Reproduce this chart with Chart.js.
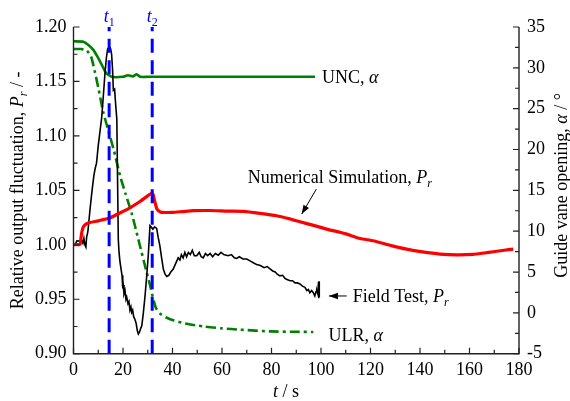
<!DOCTYPE html>
<html><head><meta charset="utf-8">
<script src="https://cdn.jsdelivr.net/npm/chart.js@4.4.1/dist/chart.umd.min.js"></script>
<style>html,body{margin:0;padding:0;background:#fff;overflow:hidden}canvas{display:block}</style>
</head><body>
<canvas id="c" width="570" height="401" style="width:570px;height:401px"></canvas>
<script>
// ---- data ----
const fieldT = [0,0.8,1.4,2.6,3.4,3.8,4.2,4.6,5.0,5.3,5.8,6.7,7.5,8.2,8.7,9.3,10.0,11.4,12.0,12.7,13.3,13.8,14.5,15.0,15.4,15.8,16.1,16.6,17.0,17.5,17.8,18.1,18.4,18.8,19.2,19.6,19.9,20.1,20.4,20.8,21.2,21.5,22.0,22.4,22.8,23.2,23.5,23.9,24.3,24.8,25.3,25.8,26.2,26.7,27.2,27.6,28.2,28.9,29.6,30.2,30.9,31.5,32.1,32.8,33.6,34.2,34.9,35.6,36.3,37.0,37.7,38.5,39.3,40.3,41.3,42.3,43.0,43.6,44.3,45.0,45.7,46.4,47.2,48.0,48.8,49.8,50.8,51.6,52.4,53.3,54.2,55.2,56.2,57.3,58.5,59.6,60.7,62.5,63.8,65.0,65.9,67.0,68.5,70.0,71.5,73.0,74.0,75.5,77.0,78.3,79.4,80.5,81.5,82.3,83.4,84.5,85.5,86.5,87.5,88.5,89.5,90.5,91.5,92.5,93.5,94.3,94.9,95.5,96.2,96.9,97.5,98.0,98.3,98.7,99.0,99.1,99.2,99.3];
const fieldP = [1.000,1.001,1.0037,1.0034,1.004,1.0015,1.006,1.000,0.998,1.007,1.012,1.033,1.050,1.063,1.0696,1.075,1.091,1.117,1.135,1.157,1.172,1.180,1.182,1.180,1.175,1.160,1.142,1.143,1.130,1.1155,1.060,1.005,0.993,0.984,0.978,0.972,0.960,0.963,0.955,0.958,0.950,0.952,0.946,0.948,0.940,0.943,0.938,0.940,0.934,0.9317,0.928,0.921,0.918,0.920,0.9235,0.9256,0.937,0.953,0.972,0.990,1.0175,1.016,1.0144,1.0165,1.015,1.007,0.999,0.988,0.9777,0.973,0.971,0.972,0.975,0.9777,0.983,0.988,0.986,0.991,0.988,0.993,0.989,0.993,0.991,0.995,0.990,0.990,0.993,0.989,0.988,0.992,0.990,0.992,0.989,0.992,0.9905,0.993,0.991,0.990,0.991,0.988,0.9875,0.989,0.987,0.987,0.985,0.983,0.982,0.981,0.979,0.980,0.978,0.976,0.975,0.973,0.9715,0.972,0.969,0.968,0.967,0.967,0.965,0.965,0.964,0.962,0.961,0.958,0.959,0.956,0.958,0.956,0.953,0.957,0.958,0.955,0.966,0.951,0.9665,0.952];

const simT = [0,2.6,3.0,3.4,4.0,5.0,6.7,10,14.5,18.5,22.8,27,31.6,32.2,32.8,33.6,34.5,35.6,40,44,48.4,55,62,68.6,75.4,82.1,87,91.5,97,102.3,107.7,110.4,115.8,121.1,128,134.6,141,148.1,155,161.5,166,169.6,174,177.7];
const simP = [1.000,1.0005,1.006,1.012,1.0165,1.019,1.0205,1.022,1.0245,1.029,1.034,1.040,1.0475,1.046,1.040,1.0335,1.031,1.0298,1.0298,1.0305,1.0313,1.0315,1.031,1.0307,1.0289,1.0267,1.024,1.0211,1.0178,1.0144,1.0115,1.0098,1.0058,1.0037,0.9995,0.996,0.9935,0.9915,0.9908,0.9912,0.9925,0.9936,0.995,0.996];

const uncT = [0,4,6,8,10,11.4,13.1,15.4,20,22,24,25.5,27,30,97.6];
const uncA = [33.25,33.2,32.8,32.2,31.2,30.4,29.4,28.9,28.9,29.1,28.95,29.2,28.9,28.9,28.9];

const ulrT = [0,3,5,6,7.1,8.5,10,12,14.2,16.4,18.8,21,23.5,26.2,29.6,31,32,33.3,35,37.7,40.3,45,52.4,60,67.3,79.4,90,96.9];
const ulrA = [32.3,32.3,32.2,31.9,31.4,29.7,27.6,24.6,22.2,19.8,16.8,14.6,12.2,9.0,4.9,3.3,2.0,0.6,-0.1,-0.6,-0.9,-1.3,-1.66,-1.9,-2.06,-2.27,-2.32,-2.34];

const markerTimes = [14.4, 31.8];
const markerNames = ['1', '2'];

const xTickRange = [0, 180, 20];
const leftTickRange = [0.90, 1.20, 0.05];
const rightTickRange = [-5, 35, 5];

// ---- helpers ----
const FONT = '"Liberation Serif", "Times New Roman", serif';
const pts = (xs, ys) => xs.map((x, i) => ({x, y: ys[i]}));

function drawRich(ctx, parts, x, y, align, size, color) {
  const fonts = {
    n: size + 'px ' + FONT,
    i: 'italic ' + size + 'px ' + FONT,
    s: 'italic ' + Math.round(size * 0.68) + 'px ' + FONT,
    d: Math.round(size * 0.68) + 'px ' + FONT
  };
  let w = 0;
  const ws = parts.map(p => { ctx.font = fonts[p[1]]; const m = ctx.measureText(p[0]).width; w += m; return m; });
  let cx = align === 'center' ? x - w / 2 : align === 'right' ? x - w : x;
  ctx.fillStyle = color || '#000';
  ctx.textBaseline = 'alphabetic';
  ctx.textAlign = 'left';
  parts.forEach((p, i) => {
    ctx.font = fonts[p[1]];
    const dy = (p[1] === 's' || p[1] === 'd') ? size * 0.22 : 0;
    ctx.fillText(p[0], cx, y + dy);
    cx += ws[i];
  });
}

function arrow(ctx, x1, y1, x2, y2) {
  ctx.save();
  ctx.strokeStyle = '#000'; ctx.fillStyle = '#000'; ctx.lineWidth = 1;
  ctx.beginPath(); ctx.moveTo(x1, y1); ctx.lineTo(x2, y2); ctx.stroke();
  const a = Math.atan2(y2 - y1, x2 - x1), L = 9, W = 3.2;
  ctx.beginPath();
  ctx.moveTo(x2, y2);
  ctx.lineTo(x2 - L * Math.cos(a) + W * Math.sin(a), y2 - L * Math.sin(a) - W * Math.cos(a));
  ctx.lineTo(x2 - L * Math.cos(a) - W * Math.sin(a), y2 - L * Math.sin(a) + W * Math.cos(a));
  ctx.closePath(); ctx.fill();
  ctx.restore();
}

const decor = {
  id: 'decor',
  afterDraw(chart) {
    const ctx = chart.ctx, ca = chart.chartArea;
    const sx = chart.scales.x, sl = chart.scales.yL, sr = chart.scales.yR;
    ctx.save();
    // axis lines
    ctx.strokeStyle = '#222'; ctx.lineWidth = 1.4;
    ctx.beginPath();
    ctx.moveTo(ca.left, ca.top); ctx.lineTo(ca.left, ca.bottom); ctx.lineTo(ca.right, ca.bottom); ctx.lineTo(ca.right, ca.top);
    ctx.stroke();
    // inward ticks
    ctx.lineWidth = 1.2;
    ctx.beginPath();
    for (let v = xTickRange[0]; v <= xTickRange[1] + 1e-9; v += xTickRange[2] / 2) {
      const px = sx.getPixelForValue(v);
      const major = Math.abs(v / xTickRange[2] - Math.round(v / xTickRange[2])) < 1e-6;
      ctx.moveTo(px, ca.bottom); ctx.lineTo(px, ca.bottom - (major ? 6 : 4));
    }
    for (let v = leftTickRange[0]; v <= leftTickRange[1] + 1e-9; v += leftTickRange[2] / 2) {
      const py = sl.getPixelForValue(v);
      const k = (v - leftTickRange[0]) / leftTickRange[2];
      const major = Math.abs(k - Math.round(k)) < 1e-6;
      ctx.moveTo(ca.left, py); ctx.lineTo(ca.left + (major ? 6 : 4), py);
    }
    for (let v = rightTickRange[0]; v <= rightTickRange[1] + 1e-9; v += rightTickRange[2] / 2) {
      const py = sr.getPixelForValue(v);
      const k = (v - rightTickRange[0]) / rightTickRange[2];
      const major = Math.abs(k - Math.round(k)) < 1e-6;
      ctx.moveTo(ca.right, py); ctx.lineTo(ca.right - (major ? 6 : 4), py);
    }
    ctx.stroke();

    // axis titles
    ctx.save();
    ctx.translate(17, (ca.top + ca.bottom) / 2); ctx.rotate(-Math.PI / 2);
    drawRich(ctx, [['Relative output fluctuation, ', 'n'], ['P', 'i'], ['r', 's'], [' / -', 'n']], 0, 6, 'center', 18);
    ctx.restore();
    ctx.save();
    ctx.translate(561, (ca.top + ca.bottom) / 2 - 5); ctx.rotate(-Math.PI / 2);
    drawRich(ctx, [['Guide vane opening, ', 'n'], ['\u03b1', 'i'], [' / \u00b0', 'n']], 0, 6, 'center', 18);
    ctx.restore();
    drawRich(ctx, [['t', 'i'], [' / s', 'n']], 286, 397, 'center', 18);

    // marker labels t1, t2
    markerTimes.forEach((t, i) => {
      drawRich(ctx, [['t', 'i'], [markerNames[i], 'd']], sx.getPixelForValue(t), 22, 'center', 18, '#0000ff');
    });

    // annotations
    const X = v => sx.getPixelForValue(v), YL = v => sl.getPixelForValue(v), YR = v => sr.getPixelForValue(v);
    drawRich(ctx, [['UNC, ', 'n'], ['\u03b1', 'i']], X(100.4), YR(28.9) + 6, 'left', 18);
    drawRich(ctx, [['Numerical Simulation, ', 'n'], ['P', 'i'], ['r', 's']], X(70.4), YL(1.062) + 6, 'left', 18);
    arrow(ctx, X(98.1), YL(1.0511), X(92.2), YL(1.0282));
    drawRich(ctx, [['Field Test, ', 'n'], ['P', 'i'], ['r', 's']], X(112.8), YL(0.953) + 6, 'left', 18);
    arrow(ctx, X(110.4), YL(0.953), X(103.2), YL(0.953));
    drawRich(ctx, [['ULR, ', 'n'], ['\u03b1', 'i']], X(103), YR(-2.67) + 6, 'left', 18);
    ctx.restore();
  }
};

const markerSets = markerTimes.map(t => ({
  data: [{x: t, y: leftTickRange[0]}, {x: t, y: leftTickRange[1]}],
  yAxisID: 'yL', borderColor: '#0000ff', borderWidth: 3, borderDash: [14, 7.5],
  pointRadius: 0, fill: false
}));

new Chart(document.getElementById('c'), {
  type: 'line',
  data: {
    datasets: [
      ...markerSets,
      {data: pts(simT, simP), yAxisID: 'yL', borderColor: '#ff0000', borderWidth: 3.2, pointRadius: 0, tension: 0.2},
      {data: pts(fieldT, fieldP), yAxisID: 'yL', borderColor: '#000', borderWidth: 1.6, pointRadius: 0, tension: 0},
      {data: pts(uncT, uncA), yAxisID: 'yR', borderColor: '#008000', borderWidth: 2.6, pointRadius: 0, tension: 0.2},
      {data: pts(ulrT, ulrA), yAxisID: 'yR', borderColor: '#008000', borderWidth: 2.6, borderDash: [10, 4, 3, 4], pointRadius: 0, tension: 0.2}
    ]
  },
  options: {
    responsive: false, animation: false, devicePixelRatio: 1,
    layout: {padding: {top: 27, left: 0, right: 0, bottom: 0}},
    plugins: {legend: {display: false}, tooltip: {enabled: false}},
    scales: {
      x: {
        type: 'linear', position: 'bottom', min: xTickRange[0], max: xTickRange[1],
        grid: {display: false, drawTicks: false}, border: {display: false},
        ticks: {stepSize: xTickRange[2], padding: 6, color: '#000', font: {family: FONT, size: 18}, maxRotation: 0,
          callback: v => String(v)},
        afterFit: s => { s.height = 47.3; }
      },
      yL: {
        type: 'linear', position: 'left', min: leftTickRange[0], max: leftTickRange[1],
        grid: {display: false, drawTicks: false}, border: {display: false},
        ticks: {stepSize: leftTickRange[2], padding: 7, color: '#000', font: {family: FONT, size: 18},
          callback: v => v.toFixed(2)},
        afterFit: s => { s.width = 73.5; }
      },
      yR: {
        type: 'linear', position: 'right', min: rightTickRange[0], max: rightTickRange[1],
        grid: {display: false, drawTicks: false}, border: {display: false},
        ticks: {stepSize: rightTickRange[2], padding: 8, color: '#000', font: {family: FONT, size: 18},
          callback: v => String(Math.round(v))},
        afterFit: s => { s.width = 51; }
      }
    }
  },
  plugins: [decor]
});
</script>
</body></html>
